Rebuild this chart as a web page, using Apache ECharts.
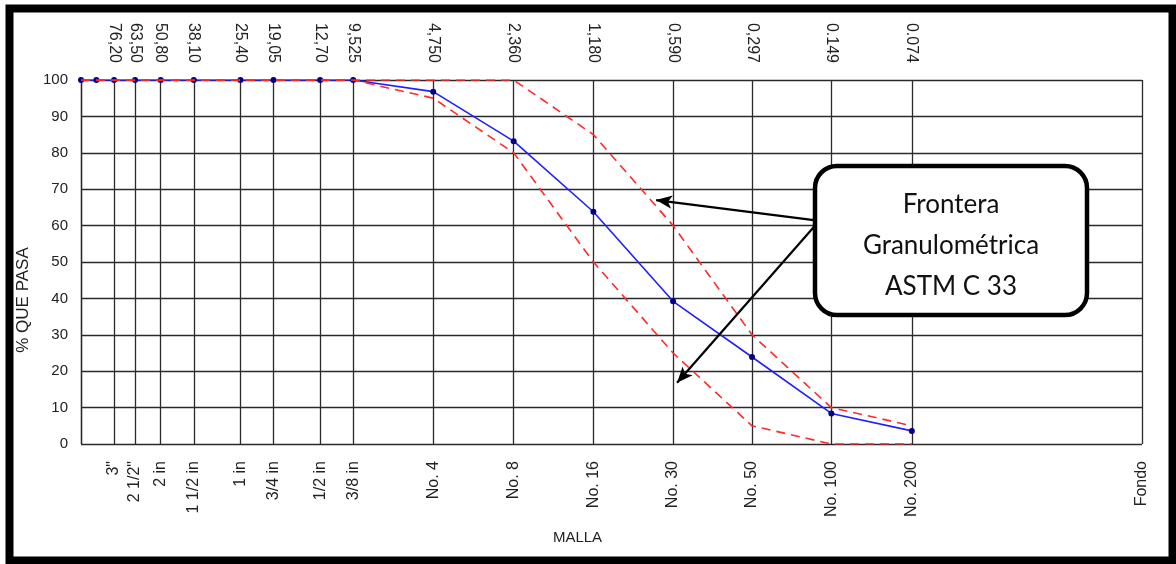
<!DOCTYPE html>
<html><head><meta charset="utf-8">
<script src="https://cdn.jsdelivr.net/npm/echarts@6/dist/echarts.min.js"></script>
<style>html,body{margin:0;padding:0;background:#fff}#c{width:1176px;height:564px}</style>
</head><body><div id="c"></div>
<script>
// sieve openings (mm) where vertical grid lines are drawn
const sieveMm = [101.6, 76.2, 63.5, 50.8, 38.1, 25.4, 19.05, 12.7, 9.525, 4.75, 2.36, 1.18, 0.59, 0.297, 0.149, 0.074, 0.01];
const topLabels = ['', '76,20', '63,50', '50,80', '38,10', '25,40', '19,05', '12,70', '9,525', '4,750', '2,360', '1,180', '0,590', '0,297', '0.149', '0.074', ''];
const bottomLabels = ['', '3"', '2 1/2"', '2 in', '1 1/2 in', '1 in', '3/4 in', '1/2 in', '3/8 in', 'No. 4', 'No. 8', 'No. 16', 'No. 30', 'No. 50', 'No. 100', 'No. 200', 'Fondo'];

// sample gradation
const sampleMm = [101.6, 88.9, 76.2, 63.5, 50.8, 38.1, 25.4, 19.05, 12.7, 9.525, 4.75, 2.36, 1.18, 0.59, 0.297, 0.149, 0.074];
const samplePass = [100, 100, 100, 100, 100, 100, 100, 100, 100, 100, 96.8, 83.2, 63.8, 39.2, 23.9, 8.4, 3.6];

// ASTM C 33 limits
const limitMm = [101.6, 9.525, 4.75, 2.36, 1.18, 0.59, 0.297, 0.149, 0.074];
const upperLimit = [100, 100, 100, 100, 85, 60, 30, 10, 5];
const lowerLimit = [100, 100, 95, 80, 50, 25, 5, 0, 0];

// annotation arrows (data space)
const arrowUpper = [[0.1735, 61.5], [0.684, 67]];
const arrowLower = [[0.1735, 59.6], [0.570, 16.8]];

function lookup(labels) {
  return function (v) {
    let best = 0, bd = Infinity;
    sieveMm.forEach((s, i) => { const d = Math.abs(Math.log10(s) - Math.log10(v)); if (d < bd) { bd = d; best = i; } });
    return bd < 0.01 ? labels[best] : '';
  };
}
const zip = (xs, ys) => xs.map((x, i) => [x, ys[i]]);

const gridColor = '#2a2a2a';
const font = 'Liberation Sans, Arial, sans-serif';

const xBase = {
  type: 'log', min: 0.01, max: 101.6, inverse: true, logBase: 10,
  axisTick: { show: false, customValues: sieveMm },
  axisLine: { show: false },
  splitLine: { show: true, lineStyle: { color: gridColor, width: 1.3 } },
  minorSplitLine: { show: false }
};

const chart = echarts.init(document.getElementById('c'));
chart.setOption({
  animation: false,
  backgroundColor: '#fff',
  grid: { left: 81, right: 34, top: 80, bottom: 120 },
  xAxis: [
    Object.assign({}, xBase, {
      position: 'bottom',
      name: 'MALLA', nameLocation: 'middle', nameGap: 86,
      nameTextStyle: { fontFamily: font, fontSize: 15, color: '#222', padding: [0, 68, 0, 0] },
      axisLabel: { customValues: sieveMm, rotate: 90, margin: 17, fontFamily: font, fontSize: 16, color: '#222', formatter: lookup(bottomLabels) }
    }),
    Object.assign({}, xBase, {
      position: 'top',
      splitLine: { show: false },
      axisLabel: { customValues: sieveMm, rotate: 90, margin: 17, fontFamily: font, fontSize: 16, color: '#222', formatter: lookup(topLabels) }
    })
  ],
  yAxis: {
    type: 'value', min: 0, max: 100, interval: 10,
    name: '% QUE PASA', nameLocation: 'middle', nameGap: 44,
    nameTextStyle: { fontFamily: font, fontSize: 17, color: '#222', padding: [0, 76, 0, 0] },
    axisLine: { show: true, lineStyle: { color: gridColor, width: 1.3 } },
    axisTick: { show: false },
    axisLabel: { margin: 13, fontFamily: font, fontSize: 15, color: '#222' },
    splitLine: { show: true, lineStyle: { color: gridColor, width: 1.3 } }
  },
  series: [
    {
      type: 'line', data: zip(sampleMm, samplePass), z: 3,
      lineStyle: { color: '#1f1fff', width: 1.6 },
      symbol: 'circle', symbolSize: 6,
      itemStyle: { color: '#000080' }
    },
    {
      type: 'line', data: zip(limitMm, upperLimit), z: 4, symbol: 'none',
      lineStyle: { color: '#ff2a2a', width: 1.6, type: [9, 6] }
    },
    {
      type: 'line', data: zip(limitMm, lowerLimit), z: 4, symbol: 'none',
      lineStyle: { color: '#ff2a2a', width: 1.6, type: [9, 6] },
      markLine: {
        silent: true, animation: false, z: 10,
        symbol: ['none', 'arrow'], symbolSize: [10, 16],
        lineStyle: { color: '#000', width: 2.2, type: 'solid' },
        label: { show: false },
        data: [
          [{ coord: arrowUpper[0] }, { coord: arrowUpper[1] }],
          [{ coord: arrowLower[0] }, { coord: arrowLower[1] }]
        ]
      }
    }
  ],
  graphic: [
    {
      type: 'rect', z: 20,
      shape: { x: 815, y: 166, width: 272, height: 149, r: 22 },
      style: { fill: '#fff', stroke: '#000', lineWidth: 4.5 }
    },
    {
      type: 'text', z: 21, x: 951, y: 184,
      style: {
        text: 'Frontera\nGranulométrica\nASTM C 33', align: 'center', verticalAlign: 'top',
        font: '26px Lato, "Open Sans", sans-serif', lineHeight: 41, fill: '#111'
      }
    },
    {
      type: 'rect', z: 30, silent: true,
      shape: { x: 9.5, y: 8.5, width: 1163, height: 552 },
      style: { fill: 'none', stroke: '#000', lineWidth: 8 }
    }
  ]
});
</script>
</body></html>
